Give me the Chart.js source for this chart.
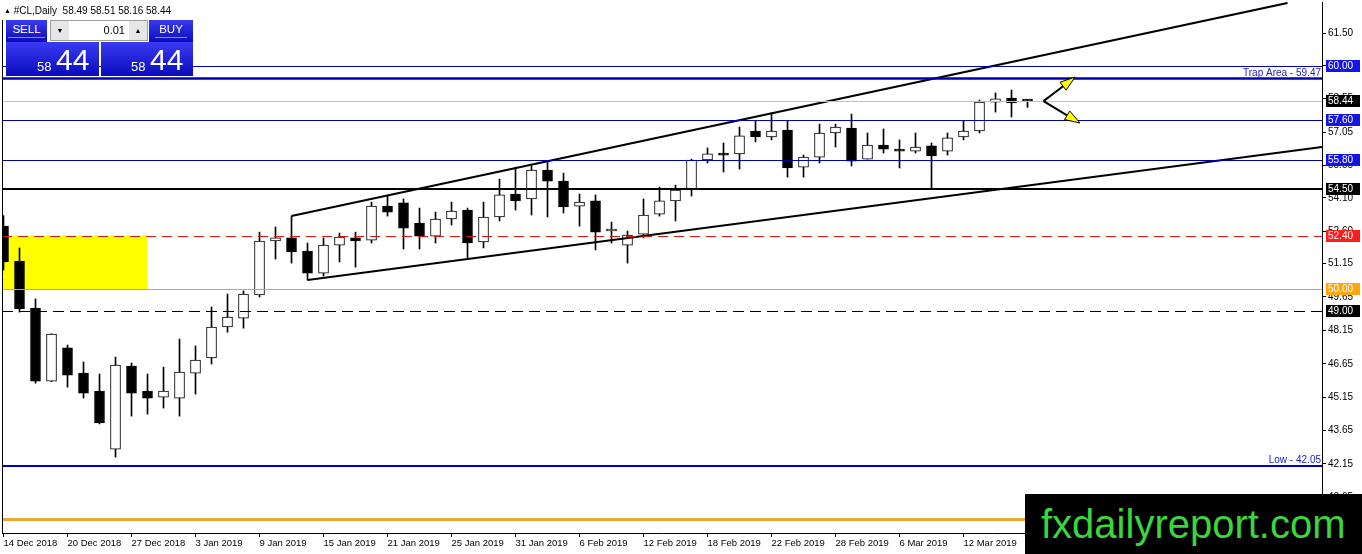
<!DOCTYPE html>
<html>
<head>
<meta charset="utf-8">
<script src="https://cdn.jsdelivr.net/npm/chart.js"></script>
<style>
body { margin: 0; background: #fff; }
#wrap { position: relative; width: 1362px; height: 554px; overflow: hidden; font-family: "Liberation Sans", Arial, sans-serif; }
#chart { position: absolute; left: 0; top: 0; }
.hdr { position: absolute; left: 4px; top: 5px; font-size: 10px; color: #000; white-space: pre; }
.hdr .tri { font-size: 7px; vertical-align: 1px; }
.blue { position: absolute; background: linear-gradient(#3a3af2, #0b0bbd); color: #fff; }
.small { top: 20px; height: 22px; font-size: 11.5px; text-align: center; }
.small span { display: inline-block; margin-top: 3px; padding: 0 4px 2px; border-bottom: 1px solid #8a8af0; }
.big { top: 42px; height: 34px; }
.big .p1 { position: absolute; top: 17px; font-size: 13px; }
.big .p2 { position: absolute; top: 1px; font-size: 30px; }
.spin { position: absolute; left: 50px; top: 20px; width: 98px; height: 21px; background: #fff; border: 1px solid #a0a0a0; box-sizing: border-box; font-size: 11px; }
.spin .b { position: absolute; top: 0; width: 18px; height: 19px; background: #e6e6e6; font-size: 7px; text-align: center; line-height: 19px; }
.spin .v { position: absolute; right: 22px; top: 3px; }
.logo { position: absolute; left: 1025px; top: 494px; width: 337px; height: 60px; background: #000; color: #3ad63a; font-size: 40px; line-height: 60px; padding-left: 16px; box-sizing: border-box; }
</style>
</head>
<body>
<div id="wrap">
  <canvas id="chart" width="1362" height="554"></canvas>
  <div class="hdr"><span class="tri">&#9650;</span> #CL,Daily  58.49 58.51 58.16 58.44</div>
  <div class="blue small" style="left:6px;width:41px;"><span>SELL</span></div>
  <div class="spin"><div class="b" style="left:0">&#9660;</div><div class="v">0.01</div><div class="b" style="right:0">&#9650;</div></div>
  <div class="blue small" style="left:149px;width:44px;"><span>BUY</span></div>
  <div class="blue big" style="left:6px;width:93px;"><span class="p1" style="left:31px">58</span><span class="p2" style="left:50px">44</span></div>
  <div class="blue big" style="left:101px;width:92px;"><span class="p1" style="left:30px">58</span><span class="p2" style="left:49px">44</span></div>
  <div class="logo">fxdailyreport.com</div>
</div>
<script>
// Daily bars, 14 Dec 2018 .. 18 Mar 2019
const dateLabels = ['14 Dec 2018', '20 Dec 2018', '27 Dec 2018', '3 Jan 2019', '9 Jan 2019', '15 Jan 2019',
    '21 Jan 2019', '25 Jan 2019', '31 Jan 2019', '6 Feb 2019', '12 Feb 2019', '18 Feb 2019',
    '22 Feb 2019', '28 Feb 2019', '6 Mar 2019', '12 Mar 2019'];
const yTicks = [61.50, 60.05, 58.55, 57.05, 55.55, 54.10, 52.60, 51.15, 49.65, 48.15, 46.65, 45.15, 43.65, 42.15, 40.65];

const opens = [52.83, 51.26, 49.15, 45.87, 47.36, 46.23, 45.42, 42.82, 46.55, 45.42, 45.15, 45.11, 46.23, 46.91, 48.30, 48.70,
    49.74, 52.16, 52.30, 51.71, 50.72, 51.98, 52.30, 52.20, 53.73, 53.87, 52.97, 52.38, 53.15, 53.55, 52.12, 53.24,
    54.27, 54.05, 55.35, 54.85, 53.73, 53.96, 52.61, 51.98, 52.47, 53.37, 53.96, 54.50, 55.80, 56.11, 56.07, 57.10,
    56.83, 57.14, 55.48, 55.93, 57.01, 57.23, 55.84, 56.47, 56.29, 56.20, 56.43, 56.20, 56.83, 57.10, 58.40, 58.58, 58.49];
const highs = [53.30, 51.85, 49.56, 48.00, 47.49, 46.73, 46.19, 46.95, 46.68, 46.19, 46.50, 47.76, 47.45, 49.20, 49.78, 49.92,
    52.56, 52.79, 53.28, 52.07, 52.30, 52.52, 52.56, 53.91, 54.18, 54.05, 53.64, 53.46, 53.91, 53.64, 53.91, 54.94,
    55.48, 55.53, 55.71, 55.21, 54.27, 54.23, 53.01, 52.61, 54.05, 54.58, 54.67, 55.84, 56.34, 56.56, 57.28, 57.55,
    57.91, 57.55, 56.02, 57.41, 57.41, 57.86, 57.01, 57.19, 56.70, 57.01, 56.56, 57.01, 57.55, 58.49, 58.81, 58.94, 58.51];
const lows = [50.86, 48.97, 45.78, 45.85, 45.60, 45.11, 43.95, 42.46, 44.30, 44.39, 44.66, 44.30, 45.29, 46.64, 48.07, 48.25,
    49.65, 51.35, 51.17, 50.41, 50.59, 51.22, 50.99, 52.07, 53.28, 51.80, 51.80, 52.07, 52.88, 51.40, 51.85, 53.06,
    53.55, 53.33, 53.24, 53.42, 52.83, 51.76, 52.07, 51.17, 52.30, 53.28, 53.06, 54.18, 55.66, 55.26, 55.39, 56.61,
    56.70, 55.03, 55.03, 55.66, 56.38, 55.53, 55.84, 56.11, 55.44, 56.11, 54.54, 56.02, 56.70, 57.01, 57.95, 57.73, 58.16];
const closes = [51.22, 49.11, 45.87, 47.98, 46.14, 45.33, 43.99, 46.59, 45.33, 45.11, 45.42, 46.28, 46.82, 48.30, 48.75, 49.78,
    52.16, 52.30, 51.67, 50.72, 51.98, 52.34, 52.16, 53.73, 53.46, 52.74, 52.38, 53.15, 53.51, 52.07, 53.24, 54.23,
    53.96, 55.35, 54.85, 53.69, 53.91, 52.56, 52.70, 52.43, 53.33, 53.96, 54.45, 55.80, 56.07, 56.02, 56.88, 56.83,
    57.10, 55.44, 55.93, 57.01, 57.28, 55.75, 56.47, 56.29, 56.20, 56.38, 55.98, 56.79, 57.10, 58.40, 58.54, 58.36, 58.44];

// drawn objects: levels, channel, zone, arrows (bar index / price)
const levelPrices = [60.00, 59.47, 58.44, 57.60, 55.80, 54.50, 52.40, 50.00, 49.00, 42.05, 39.70];
const channelUpper = [[18, 53.28], [80.25, 62.85]];
const channelLower = [[19, 50.41], [82.4, 56.38]];
const zoneX = [-1, 8.97];
const zoneY = [50.00, 52.40];
const arrowStart = [65, 58.44];
const arrowEnds = [[66.97, 59.52], [67.28, 57.46]];

// look of each level, same order as levelPrices
const levelLook = [
    { color: '#0000a8', width: 1, box: '#1414e6' },
    { color: '#0000b0', width: 2.5, text: 'Trap Area - ' },
    { color: '#c0c0c0', width: 1, box: '#000' },
    { color: '#0000a8', width: 1, box: '#1414e6' },
    { color: '#0000a8', width: 1, box: '#1414e6' },
    { color: '#000', width: 2, box: '#000' },
    { color: '#d81818', width: 1, dash: [10, 6], box: '#ff1c1c' },
    { color: '#f0a028', width: 1, box: '#ffa60a' },
    { color: '#000', width: 1, dash: [11, 6], box: '#000' },
    { color: '#0000c0', width: 2, text: 'Low - ' },
    { color: '#e8a838', width: 3 }
];

const FONT = '"Liberation Sans", Arial, sans-serif';
const idx = opens.map((v, i) => i);

const drawObjects = {
    id: 'drawObjects',
    beforeDatasetsDraw(chart) {
        const { ctx, chartArea: a, scales: { x, y } } = chart;
        ctx.save();
        ctx.beginPath();
        ctx.rect(a.left, a.top, a.right - a.left, a.bottom - a.top);
        ctx.clip();
        const x0 = x.getPixelForValue(zoneX[0]), x1 = x.getPixelForValue(zoneX[1]);
        const y0 = y.getPixelForValue(zoneY[1]), y1 = y.getPixelForValue(zoneY[0]);
        ctx.fillStyle = '#ffff00';
        ctx.fillRect(x0, y0, x1 - x0, y1 - y0);
        ctx.restore();
    },
    afterDatasetsDraw(chart) {
        const { ctx, chartArea: a, scales: { x, y } } = chart;
        ctx.save();
        levelPrices.forEach((p, k) => {
            const look = levelLook[k];
            const py = Math.round(y.getPixelForValue(p)) + (look.width % 2 ? 0.5 : 0);
            ctx.strokeStyle = look.color;
            ctx.lineWidth = look.width;
            ctx.setLineDash(look.dash || []);
            ctx.beginPath();
            ctx.moveTo(a.left, py);
            ctx.lineTo(a.right, py);
            ctx.stroke();
            if (look.text) {
                ctx.fillStyle = '#2020c0';
                ctx.font = '10px ' + FONT;
                ctx.textAlign = 'right';
                ctx.textBaseline = 'alphabetic';
                ctx.fillText(look.text + p.toFixed(2), a.right - 1, py - 3);
            }
        });
        ctx.setLineDash([]);
        // arrows
        const sx = x.getPixelForValue(arrowStart[0]), sy = y.getPixelForValue(arrowStart[1]);
        arrowEnds.forEach(e => {
            const ex = x.getPixelForValue(e[0]), ey = y.getPixelForValue(e[1]);
            const ang = Math.atan2(ey - sy, ex - sx);
            const len = 15, hw = 5;
            const bx = ex - len * Math.cos(ang), by = ey - len * Math.sin(ang);
            ctx.strokeStyle = '#000';
            ctx.lineWidth = 2;
            ctx.beginPath();
            ctx.moveTo(sx, sy);
            ctx.lineTo(bx, by);
            ctx.stroke();
            ctx.beginPath();
            ctx.moveTo(ex, ey);
            ctx.lineTo(bx + hw * Math.sin(ang), by - hw * Math.cos(ang));
            ctx.lineTo(bx - hw * Math.sin(ang), by + hw * Math.cos(ang));
            ctx.closePath();
            ctx.fillStyle = '#ffff00';
            ctx.fill();
            ctx.lineWidth = 1;
            ctx.stroke();
        });
        ctx.restore();
    },
    afterDraw(chart) {
        const { ctx, chartArea: a, scales: { y } } = chart;
        ctx.save();
        // left frame
        ctx.strokeStyle = '#000';
        ctx.lineWidth = 1;
        ctx.beginPath();
        ctx.moveTo(a.left + 0.5, 20);
        ctx.lineTo(a.left + 0.5, a.bottom);
        ctx.stroke();
        // price boxes on the axis
        ctx.font = '10px ' + FONT;
        ctx.textAlign = 'left';
        ctx.textBaseline = 'middle';
        levelPrices.forEach((p, k) => {
            const look = levelLook[k];
            if (!look.box) return;
            const py = Math.round(y.getPixelForValue(p));
            ctx.fillStyle = look.box;
            ctx.fillRect(a.right + 4, py - 6, 34, 12);
            ctx.fillStyle = '#fff';
            ctx.fillText(p.toFixed(2), a.right + 6, py + 0.5);
        });
        ctx.restore();
    }
};

new Chart(document.getElementById('chart'), {
    type: 'bar',
    data: {
        datasets: [
            {
                label: 'wicks',
                data: idx.map(i => ({ x: i, y: [lows[i], highs[i]] })),
                backgroundColor: '#000',
                barThickness: 1,
                grouped: false,
                minBarLength: 1,
                order: 3
            },
            {
                label: 'bodies',
                data: idx.map(i => ({ x: i, y: [opens[i], closes[i]] })),
                backgroundColor: idx.map(i => closes[i] >= opens[i] ? '#fff' : '#000'),
                borderColor: '#000',
                borderWidth: 1,
                borderSkipped: false,
                barThickness: 10,
                grouped: false,
                minBarLength: 2,
                order: 2
            },
            {
                type: 'line',
                label: 'upper',
                data: channelUpper.map(p => ({ x: p[0], y: p[1] })),
                borderColor: '#000',
                borderWidth: 2,
                pointRadius: 0,
                order: 0
            },
            {
                type: 'line',
                label: 'lower',
                data: channelLower.map(p => ({ x: p[0], y: p[1] })),
                borderColor: '#000',
                borderWidth: 2,
                pointRadius: 0,
                order: 0
            }
        ]
    },
    options: {
        responsive: false,
        animation: false,
        layout: { padding: { left: 2, top: 2, right: 0, bottom: 0 } },
        plugins: { legend: { display: false }, tooltip: { enabled: false } },
        scales: {
            x: {
                type: 'linear',
                offset: false,
                min: -0.094,
                max: 82.406,
                afterBuildTicks: s => { s.ticks = dateLabels.map((d, k) => ({ value: k * 4 })); },
                afterFit: s => { s.height = 21; s.paddingLeft = 0; s.paddingRight = 0; },
                ticks: {
                    autoSkip: false,
                    maxRotation: 0,
                    align: 'start',
                    padding: 1,
                    color: '#000',
                    font: { size: 9.5, family: FONT },
                    callback: (v, k) => dateLabels[k]
                },
                grid: { offset: false, drawOnChartArea: false, drawTicks: true, tickLength: 4, color: '#000' },
                border: { display: true, color: '#000' }
            },
            y: {
                type: 'linear',
                position: 'right',
                min: 39.052,
                max: 62.892,
                afterBuildTicks: s => { s.ticks = yTicks.map(v => ({ value: v })); },
                afterFit: s => { s.width = 40; s.paddingTop = 0; s.paddingBottom = 0; },
                ticks: {
                    autoSkip: false,
                    padding: 2,
                    color: '#000',
                    font: { size: 10, family: FONT },
                    callback: v => v.toFixed(2)
                },
                grid: { drawOnChartArea: false, drawTicks: true, tickLength: 4, color: '#000' },
                border: { display: true, color: '#000' }
            }
        }
    },
    plugins: [drawObjects]
});
</script>
</body>
</html>
